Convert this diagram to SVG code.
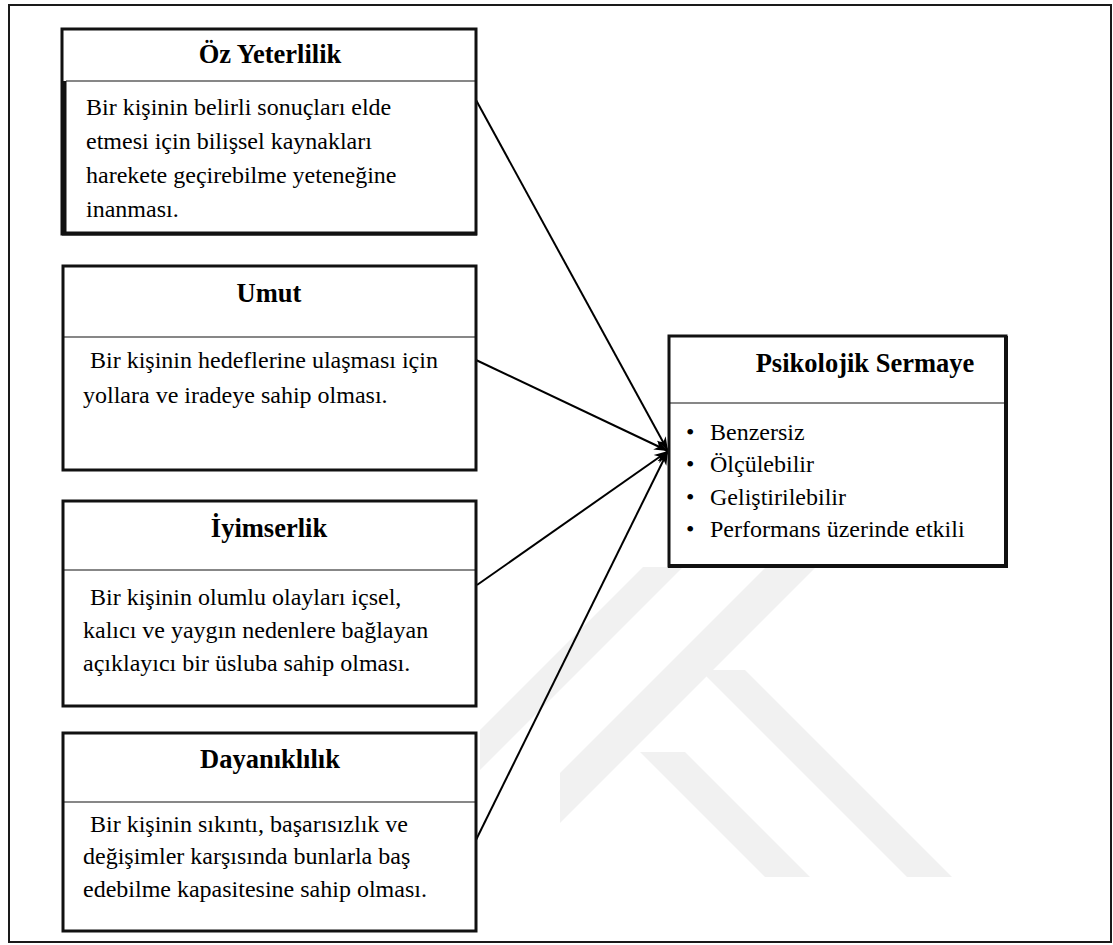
<svg xmlns="http://www.w3.org/2000/svg" width="1113" height="945" viewBox="0 0 1113 945">
<defs>
<marker id="ah" markerUnits="userSpaceOnUse" markerWidth="16" markerHeight="12" refX="14" refY="6" orient="auto">
<path d="M0,1 L14,6 L0,11 L4,6 Z" fill="#000"/>
</marker>
</defs>
<rect x="0" y="0" width="1113" height="945" fill="#fff"/>
<g id="watermark" fill="#f1f1f1">
<polygon points="560,773 560,823 816,567 766,567"/>
<polygon points="640,752 685,752 810,877 765,877"/>
<polygon points="700,670 745,670 952,877 907,877"/>
<polygon points="480,730 480,770 683,567 643,567"/>
</g>
<rect x="9" y="5" width="1102" height="937" fill="none" stroke="#1a1a1a" stroke-width="2"/>
<g id="connectors" stroke="#000" stroke-width="2" fill="none">
<line x1="476" y1="100" x2="668" y2="451" marker-end="url(#ah)"/>
<line x1="476" y1="360" x2="668" y2="451" marker-end="url(#ah)"/>
<line x1="477" y1="585" x2="668" y2="451" marker-end="url(#ah)"/>
<line x1="474" y1="844" x2="668" y2="451" marker-end="url(#ah)"/>
</g>
<g id="oz-yeterlilik">
<rect x="62" y="29" width="414" height="205" fill="#fff" stroke="#111" stroke-width="3"/>
<line x1="64" y1="81" x2="64" y2="235" stroke="#111" stroke-width="5"/>
<line x1="62" y1="233.5" x2="477" y2="233.5" stroke="#111" stroke-width="4"/>
<line x1="66" y1="81" x2="476" y2="81" stroke="#111" stroke-width="1.2"/>
<text style="font-family:'Liberation Serif',serif;font-weight:bold;font-size:26.5px" text-anchor="middle" x="270" y="63">Öz Yeterlilik</text>
<text style="font-family:'Liberation Serif',serif;font-size:24px" x="86" y="115">Bir kişinin belirli sonuçları elde</text>
<text style="font-family:'Liberation Serif',serif;font-size:24px" x="86" y="149">etmesi için bilişsel kaynakları</text>
<text style="font-family:'Liberation Serif',serif;font-size:24px" x="86" y="183">harekete geçirebilme yeteneğine</text>
<text style="font-family:'Liberation Serif',serif;font-size:24px" x="86" y="217">inanması.</text>
</g>
<g id="umut">
<rect x="63" y="266" width="413" height="204" fill="#fff" stroke="#111" stroke-width="3"/>
<line x1="63" y1="337" x2="476" y2="337" stroke="#111" stroke-width="1.2"/>
<text style="font-family:'Liberation Serif',serif;font-weight:bold;font-size:26.5px" text-anchor="middle" x="269" y="302">Umut</text>
<text style="font-family:'Liberation Serif',serif;font-size:24px" x="90" y="368">Bir kişinin hedeflerine ulaşması için</text>
<text style="font-family:'Liberation Serif',serif;font-size:24px" x="83" y="403">yollara ve iradeye sahip olması.</text>
</g>
<g id="iyimserlik">
<rect x="63" y="501" width="413" height="205" fill="#fff" stroke="#111" stroke-width="3"/>
<line x1="63" y1="570" x2="476" y2="570" stroke="#111" stroke-width="1.2"/>
<text style="font-family:'Liberation Serif',serif;font-weight:bold;font-size:26.5px" text-anchor="middle" x="269" y="537">İyimserlik</text>
<text style="font-family:'Liberation Serif',serif;font-size:24px" x="90" y="605">Bir kişinin olumlu olayları içsel,</text>
<text style="font-family:'Liberation Serif',serif;font-size:24px" x="83" y="638">kalıcı ve yaygın nedenlere bağlayan</text>
<text style="font-family:'Liberation Serif',serif;font-size:24px" x="83" y="671">açıklayıcı bir üsluba sahip olması.</text>
</g>
<g id="dayaniklilik">
<rect x="63" y="733" width="413" height="198" fill="#fff" stroke="#111" stroke-width="3"/>
<line x1="63" y1="802" x2="476" y2="802" stroke="#111" stroke-width="1.2"/>
<text style="font-family:'Liberation Serif',serif;font-weight:bold;font-size:26.5px" text-anchor="middle" x="270" y="768">Dayanıklılık</text>
<text style="font-family:'Liberation Serif',serif;font-size:24px" x="90" y="832">Bir kişinin sıkıntı, başarısızlık ve</text>
<text style="font-family:'Liberation Serif',serif;font-size:24px" x="83" y="864">değişimler karşısında bunlarla baş</text>
<text style="font-family:'Liberation Serif',serif;font-size:24px" x="83" y="897">edebilme kapasitesine sahip olması.</text>
</g>
<g id="psikolojik-sermaye">
<rect x="669" y="336" width="337" height="230" fill="#fff" stroke="#111" stroke-width="3"/>
<line x1="1006" y1="336" x2="1006" y2="567" stroke="#111" stroke-width="4"/>
<line x1="668" y1="566" x2="1008" y2="566" stroke="#111" stroke-width="4"/>
<line x1="669" y1="403" x2="1006" y2="403" stroke="#111" stroke-width="1.2"/>
<text style="font-family:'Liberation Serif',serif;font-weight:bold;font-size:26.5px" text-anchor="middle" x="865" y="372">Psikolojik Sermaye</text>
<text style="font-family:'Liberation Serif',serif;font-size:24px" x="686" y="440">•</text>
<text style="font-family:'Liberation Serif',serif;font-size:24px" x="710" y="440">Benzersiz</text>
<text style="font-family:'Liberation Serif',serif;font-size:24px" x="686" y="472">•</text>
<text style="font-family:'Liberation Serif',serif;font-size:24px" x="710" y="472">Ölçülebilir</text>
<text style="font-family:'Liberation Serif',serif;font-size:24px" x="686" y="505">•</text>
<text style="font-family:'Liberation Serif',serif;font-size:24px" x="710" y="505">Geliştirilebilir</text>
<text style="font-family:'Liberation Serif',serif;font-size:24px" x="686" y="537">•</text>
<text style="font-family:'Liberation Serif',serif;font-size:24px" x="710" y="537">Performans üzerinde etkili</text>
</g>
</svg>
